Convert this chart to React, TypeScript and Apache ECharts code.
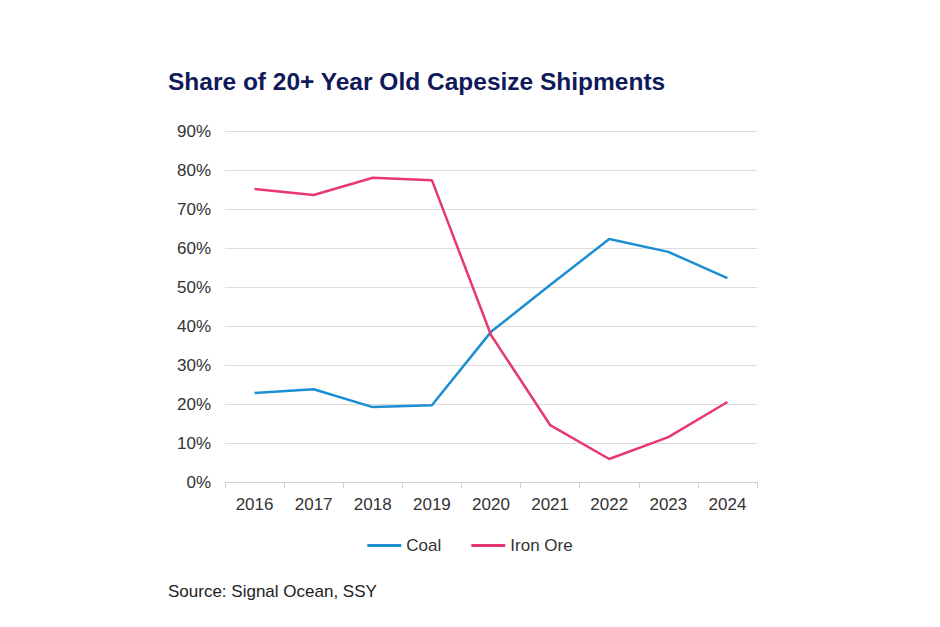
import * as echarts from "echarts";
import { useEffect, useRef } from "react";

const years = ["2016", "2017", "2018", "2019", "2020", "2021", "2022", "2023", "2024"];
const coal = [22.8, 23.8, 19.2, 19.7, 38.5, 50.5, 62.3, 59.0, 52.3];
const ironOre = [75.1, 73.6, 78.0, 77.4, 37.7, 14.6, 5.9, 11.5, 20.5];

const font = "Liberation Sans, Arial, sans-serif";

const App = () => {
  const chartRef = useRef(null);

  useEffect(() => {
    if (!chartRef.current) {
      return;
    }
    const chart = echarts.init(chartRef.current, null, { renderer: "svg" });
    chart.setOption({
      animation: false,
      textStyle: { fontFamily: font },
      title: [
        {
          text: "Share of 20+ Year Old Capesize Shipments",
          left: 155,
          top: 56,
          textStyle: { fontSize: 24.5, fontWeight: "bold", color: "#10195a", fontFamily: font },
        },
        {
          text: "Source: Signal Ocean, SSY",
          left: 155,
          top: 570,
          textStyle: { fontSize: 17, fontWeight: "normal", color: "#222", fontFamily: font },
        },
      ],
      legend: {
        top: 524,
        left: "center",
        itemWidth: 34,
        itemHeight: 3,
        itemGap: 30,
        icon: "rect",
        textStyle: { fontSize: 17, color: "#333" },
        data: ["Coal", "Iron Ore"],
      },
      grid: { left: 217, right: 175, top: 123, bottom: 137 },
      xAxis: {
        type: "category",
        data: years,
        axisLine: { lineStyle: { color: "#d0d0d0" } },
        axisTick: { show: true, length: 6, lineStyle: { color: "#d0d0d0" } },
        axisLabel: { fontSize: 17, color: "#333", margin: 14 },
      },
      yAxis: {
        type: "value",
        min: 0,
        max: 90,
        interval: 10,
        axisLabel: { formatter: "{value}%", fontSize: 17, color: "#333", margin: 14 },
        splitLine: { lineStyle: { color: "#dcdcdc" } },
      },
      series: [
        {
          name: "Coal",
          type: "line",
          data: coal,
          showSymbol: false,
          symbol: "none",
          itemStyle: { color: "#1c8fd2" },
          lineStyle: { width: 2.5, color: "#1c8fd2" },
        },
        {
          name: "Iron Ore",
          type: "line",
          data: ironOre,
          showSymbol: false,
          symbol: "none",
          itemStyle: { color: "#e8396f" },
          lineStyle: { width: 2.5, color: "#e8396f" },
        },
      ],
    });
    return () => {
      chart.dispose();
    };
  }, []);

  return <div ref={chartRef} style={{ width: "924px", height: "611px" }}></div>;
};

export default App;
